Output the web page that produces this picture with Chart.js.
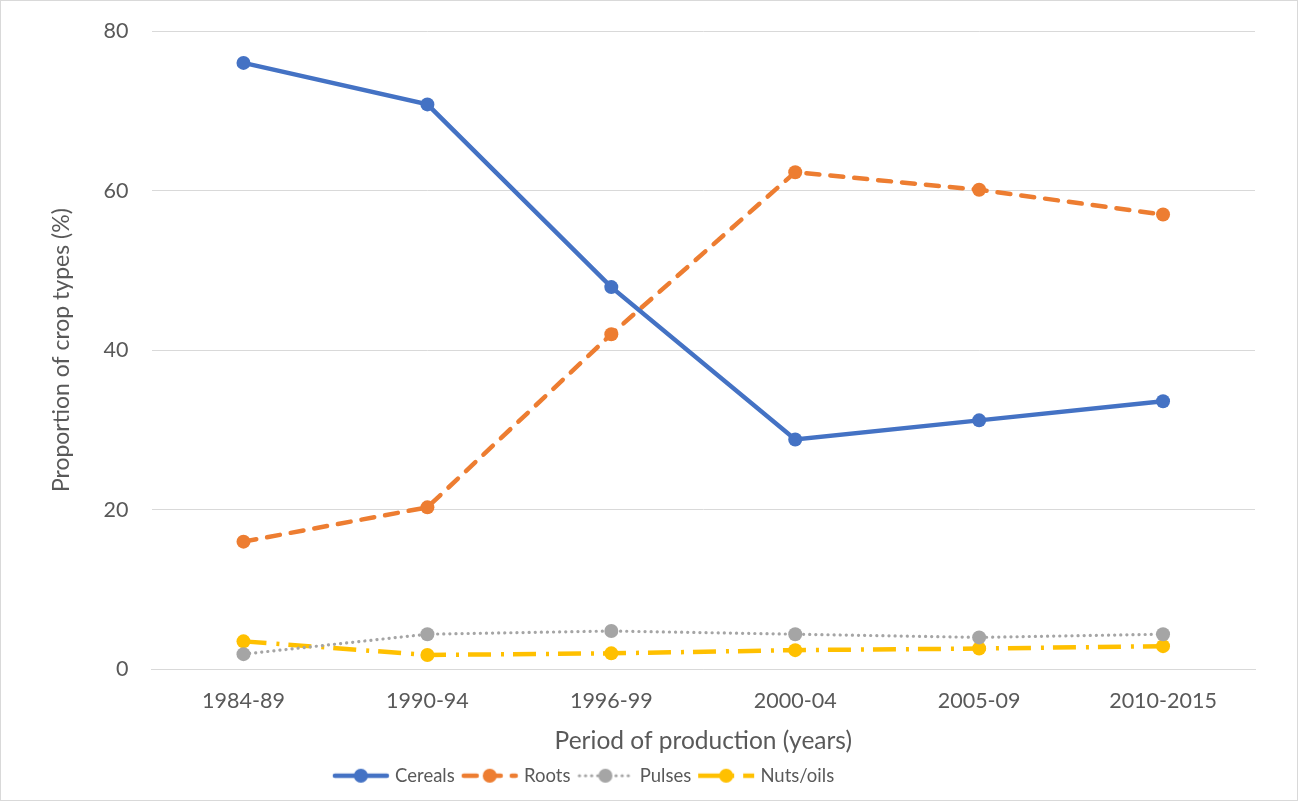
<!DOCTYPE html>
<html>
<head>
<meta charset="utf-8">
<script src="https://cdn.jsdelivr.net/npm/chart.js@4/dist/chart.umd.min.js"></script>
<style>
  html, body { margin: 0; padding: 0; background: #fff; }
  #wrap { width: 1298px; height: 801px; position: relative; box-sizing: border-box; border: 1px solid #d9d9d9; }
</style>
</head>
<body>
<div id="wrap"><canvas id="c"></canvas></div>
<script>
const periods = ['1984-89', '1990-94', '1996-99', '2000-04', '2005-09', '2010-2015'];
const cereals = [76.0, 70.8, 47.9, 28.8, 31.2, 33.6];
const roots   = [16.0, 20.3, 42.0, 62.3, 60.1, 57.0];
const pulses  = [1.9, 4.4, 4.8, 4.4, 4.0, 4.4];
const nutsOils = [3.5, 1.8, 2.0, 2.4, 2.6, 2.9];
const yTicks = [0, 20, 40, 60, 80];

const FONT = 'Lato, "Open Sans", sans-serif';
const TXT = '#595959';

const styles = {
  Cereals:     { color: '#4472c4', dash: [],             width: 4.5, cap: 'round' },
  Roots:       { color: '#ed7d31', dash: [13, 11],       width: 4.5, cap: 'round' },
  Pulses:      { color: '#a5a5a5', dash: [0.1, 6],       width: 3.2, cap: 'round' },
  'Nuts/oils': { color: '#ffc000', dash: [23, 10, 3, 9], width: 4.5, cap: 'butt' }
};

// legend swatch: short line in the series style with its marker in the middle
function swatch(name) {
  const s = styles[name];
  const cv = document.createElement('canvas');
  cv.width = 58; cv.height = 16;
  const g = cv.getContext('2d');
  g.strokeStyle = s.color;
  g.lineWidth = s.width;
  g.lineCap = s.cap;
  g.setLineDash(s.dash);
  g.beginPath();
  if (name === 'Nuts/oils') { g.moveTo(1, 8); g.lineTo(57, 8); }
  else { g.moveTo(3, 8); g.lineTo(55, 8); }
  g.stroke();
  g.setLineDash([]);
  g.fillStyle = s.color;
  g.beginPath();
  g.arc(29, 8, 7, 0, Math.PI * 2);
  g.fill();
  return cv;
}

function ds(label, data) {
  const s = styles[label];
  return {
    label, data,
    borderColor: s.color,
    backgroundColor: s.color,
    borderWidth: s.width,
    borderDash: s.dash,
    borderCapStyle: s.cap,
    pointRadius: 7,
    pointHoverRadius: 7,
    pointBorderWidth: 0,
    pointBackgroundColor: s.color,
    tension: 0,
    fill: false,
    legendSwatch: swatch(label)
  };
}

// the legend row sits a little left of the canvas centre
const legendShift = {
  id: 'legendShift',
  afterLayout(chart, args, opts) {
    const lg = chart.legend;
    if (lg) { lg.left += opts.dx; lg.right += opts.dx; }
  }
};

new Chart(document.getElementById('c'), {
  type: 'line',
  plugins: [legendShift],
  data: {
    labels: periods,
    datasets: [
      ds('Cereals', cereals),
      ds('Roots', roots),
      ds('Pulses', pulses),
      ds('Nuts/oils', nutsOils)
    ]
  },
  options: {
    responsive: true,
    maintainAspectRatio: false,
    animation: false,
    layout: { padding: { top: 30, left: 40, right: 42, bottom: 5 } },
    plugins: {
      tooltip: { enabled: false },
      legendShift: { dx: -63 },
      legend: {
        position: 'bottom',
        labels: {
          usePointStyle: true,
          pointStyleWidth: 50,
          padding: 10,
          color: TXT,
          font: { family: FONT, size: 18.5 },
          generateLabels(chart) {
            return chart.data.datasets.map((d, i) => ({
              text: d.label,
              pointStyle: d.legendSwatch,
              fillStyle: d.borderColor,
              strokeStyle: d.borderColor,
              lineWidth: 0,
              fontColor: TXT,
              hidden: false,
              datasetIndex: i
            }));
          }
        }
      }
    },
    scales: {
      x: {
        offset: true,
        grid: { display: false, drawTicks: false },
        border: { display: true, color: '#d9d9d9', width: 1 },
        ticks: { color: TXT, font: { family: FONT, size: 21.5 }, padding: 19 },
        title: { display: true, text: 'Period of production (years)', color: TXT, font: { family: FONT, size: 24.5 }, padding: { top: -7, bottom: 1 } }
      },
      y: {
        min: 0, max: 80,
        afterBuildTicks(axis) { axis.ticks = yTicks.map(v => ({ value: v })); },
        // only half a label of room is needed above/below the end ticks
        afterFit(axis) { axis.paddingTop = 13; axis.paddingBottom = 13; },
        grid: { color: '#d9d9d9', lineWidth: 1, drawTicks: false },
        border: { display: false },
        ticks: { color: TXT, font: { family: FONT, size: 21.5 }, padding: 23 },
        title: { display: true, text: 'Proportion of crop types (%)', color: TXT, font: { family: FONT, size: 23 }, padding: { top: 7, bottom: 5 } }
      }
    }
  }
});
</script>
</body>
</html>
